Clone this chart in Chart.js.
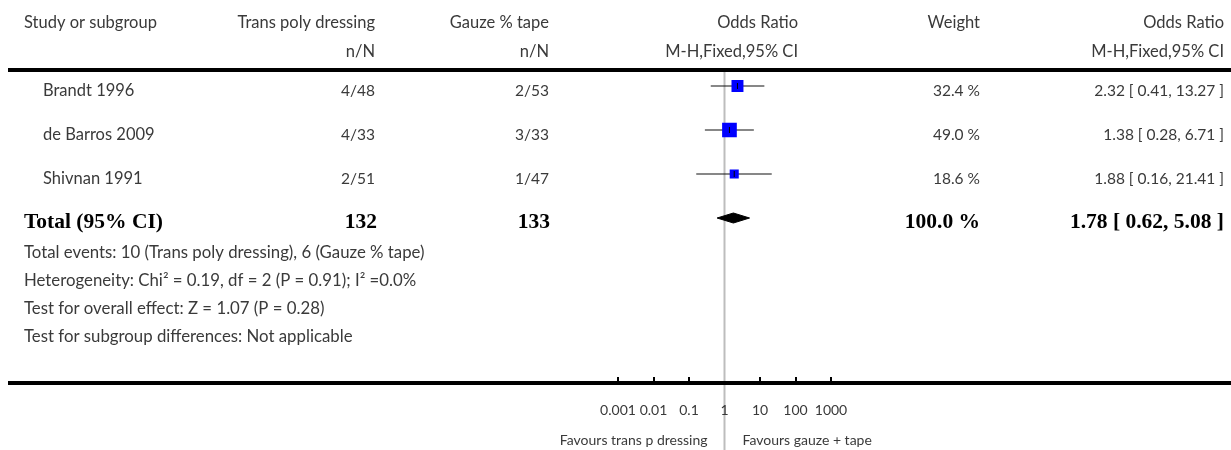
<!DOCTYPE html>
<html>
<head>
<meta charset="utf-8">
<script src="https://cdn.jsdelivr.net/npm/chart.js@4.4.1/dist/chart.umd.min.js"></script>
<style>
  html, body { margin: 0; padding: 0; background: #fff; }
  #wrap { width: 1231px; height: 450px; }
</style>
</head>
<body>
<div id="wrap"><canvas id="c" width="1231" height="450"></canvas></div>
<script>
// ---- data ----
const studies = ["Brandt 1996", "de Barros 2009", "Shivnan 1991"];
const treatN = ["4/48", "4/33", "2/51"];
const controlN = ["2/53", "3/33", "1/47"];
const orEst = [2.32, 1.38, 1.88];
const orLow = [0.41, 0.28, 0.16];
const orHigh = [13.27, 6.71, 21.41];
const weights = [32.4, 49.0, 18.6];
const totalTreat = 132;
const totalControl = 133;
const totalEst = 1.78;
const totalLow = 0.62;
const totalHigh = 5.08;
const totalWeight = 100.0;
const tickValues = [0.001, 0.01, 0.1, 1, 10, 100, 1000];
const tickLabels = ["0.001", "0.01", "0.1", "1", "10", "100", "1000"];
const footnotes = [
  "Total events: 10 (Trans poly dressing), 6 (Gauze % tape)",
  "Heterogeneity: Chi\u00B2 = 0.19, df = 2 (P = 0.91); I\u00B2 =0.0%",
  "Test for overall effect: Z = 1.07 (P = 0.28)",
  "Test for subgroup differences: Not applicable"
];
const favourLeft = "Favours trans p dressing";
const favourRight = "Favours gauze + tape";

// ---- styling ----
const SANS = '"Lato", "Open Sans", sans-serif';
const SERIF = '"Liberation Serif", "DejaVu Serif", serif';
const TXT = '#3a3a3a';
const F_WORD = '16.5px ' + SANS;
const F_FOOT = '16.8px ' + SANS;
const F_NUM = '15.5px ' + SANS;
const F_BOLD = 'bold 21.5px ' + SERIF;
const F_AXIS = '14px ' + SANS;
const fmt2 = v => v.toFixed(2);

const rows = studies.map((s, i) => i);
const totalRow = studies.length;

// column anchors (pixels)
const COL_LEFT = 24, COL_STUDY = 43, COL_T = 375, COL_C = 549, COL_FP = 798, COL_W = 980, COL_CI = 1224;

// datasets
const tickDs = {
  type: 'scatter', label: 'est-mark',
  data: orEst.map((v, i) => ({ x: v, y: rows[i] })),
  pointStyle: 'line', rotation: 90, pointRadius: 3,
  borderColor: '#000', borderWidth: 1, backgroundColor: '#000'
};
const squareDs = {
  type: 'scatter', label: 'squares',
  data: orEst.map((v, i) => ({ x: v, y: rows[i] })),
  pointStyle: 'rect',
  pointRadius: weights.map(w => 2.1 * Math.sqrt(w) / (2 * Math.SQRT1_2)),
  backgroundColor: '#0000ff', borderColor: '#0000ff', borderWidth: 0
};
const ciDs = orEst.map((v, i) => ({
  type: 'line', label: 'ci' + i,
  data: [{ x: orLow[i], y: rows[i] }, { x: orHigh[i], y: rows[i] }],
  borderColor: '#111', borderWidth: 1.2, pointRadius: 0, fill: false
}));
const dh = 5 / 44;
const diamondDs = {
  type: 'line', label: 'diamond',
  data: [
    { x: totalLow, y: totalRow },
    { x: totalEst, y: totalRow - dh },
    { x: totalHigh, y: totalRow },
    { x: totalEst, y: totalRow + dh },
    { x: totalLow, y: totalRow }
  ],
  borderColor: '#000', borderWidth: 1, backgroundColor: '#000',
  pointRadius: 0, fill: 'shape', tension: 0
};

const tablePlugin = {
  id: 'table',
  beforeDatasetsDraw(chart) {
    const ctx = chart.ctx;
    const xs = chart.scales.x;
    const x1 = xs.getPixelForValue(1);
    ctx.save();
    ctx.strokeStyle = '#bdbdbd';
    ctx.lineWidth = 2;
    ctx.beginPath();
    ctx.moveTo(x1, 70); ctx.lineTo(x1, 450);
    ctx.stroke();
    ctx.restore();
  },
  afterDatasetsDraw(chart) {
    const ctx = chart.ctx;
    const xs = chart.scales.x, ys = chart.scales.y;
    const W = chart.width;
    ctx.save();
    // horizontal rules
    ctx.fillStyle = '#000';
    ctx.fillRect(8, 68, W - 8, 4);
    ctx.fillRect(8, 381, W - 8, 4);
    // axis ticks
    ctx.strokeStyle = '#000';
    ctx.lineWidth = 2;
    tickValues.forEach(v => {
      if (v === 1) return;
      const px = Math.round(xs.getPixelForValue(v));
      ctx.beginPath(); ctx.moveTo(px, 377); ctx.lineTo(px, 382); ctx.stroke();
    });
    ctx.textBaseline = 'middle';
    // headers
    ctx.fillStyle = TXT;
    ctx.font = F_WORD;
    ctx.textAlign = 'left';
    ctx.fillText('Study or subgroup', COL_LEFT, 23);
    ctx.textAlign = 'right';
    ctx.fillText('Trans poly dressing', COL_T, 23);
    ctx.fillText('Gauze % tape', COL_C, 23);
    ctx.fillText('n/N', COL_T, 52);
    ctx.fillText('n/N', COL_C, 52);
    ctx.fillText('Odds Ratio', COL_FP, 23);
    ctx.fillText('M-H,Fixed,95% CI', COL_FP, 52);
    ctx.fillText('Weight', COL_W, 23);
    ctx.fillText('Odds Ratio', COL_CI, 23);
    ctx.fillText('M-H,Fixed,95% CI', COL_CI, 52);
    // study rows
    studies.forEach((s, i) => {
      const py = ys.getPixelForValue(rows[i]) + 5;
      ctx.font = F_WORD;
      ctx.textAlign = 'left';
      ctx.fillText(s, COL_STUDY, py);
      ctx.font = F_NUM;
      ctx.textAlign = 'right';
      ctx.fillText(treatN[i], COL_T, py);
      ctx.fillText(controlN[i], COL_C, py);
      ctx.fillText(weights[i].toFixed(1) + ' %', COL_W, py);
      ctx.fillText(fmt2(orEst[i]) + ' [ ' + fmt2(orLow[i]) + ', ' + fmt2(orHigh[i]) + ' ]', COL_CI, py);
    });
    // total row
    const ty = ys.getPixelForValue(totalRow) + 4;
    ctx.fillStyle = '#000';
    ctx.font = F_BOLD;
    ctx.textAlign = 'left';
    ctx.fillText('Total (95% CI)', COL_LEFT, ty);
    ctx.textAlign = 'right';
    ctx.fillText(String(totalTreat), COL_T + 2, ty);
    ctx.fillText(String(totalControl), COL_C + 1, ty);
    ctx.fillText(totalWeight.toFixed(1) + ' %', COL_W, ty);
    ctx.fillText(fmt2(totalEst) + ' [ ' + fmt2(totalLow) + ', ' + fmt2(totalHigh) + ' ]', COL_CI, ty);
    // footnotes
    ctx.fillStyle = TXT;
    ctx.font = F_FOOT;
    ctx.textAlign = 'left';
    footnotes.forEach((f, i) => ctx.fillText(f, COL_LEFT, 253 + i * 28));
    // tick labels
    ctx.textAlign = 'center';
    ctx.font = F_AXIS;
    tickValues.forEach((v, i) => {
      ctx.fillText(tickLabels[i], xs.getPixelForValue(v), 410);
    });
    // favours
    const xc = xs.getPixelForValue(1);
    ctx.textAlign = 'right';
    ctx.fillText(favourLeft, xc - 17, 440);
    ctx.textAlign = 'left';
    ctx.fillText(favourRight, xc + 18, 440);
    ctx.restore();
  }
};

new Chart(document.getElementById('c'), {
  data: { datasets: [tickDs, squareDs, ...ciDs, diamondDs] },
  options: {
    responsive: false,
    animation: false,
    devicePixelRatio: 1,
    layout: { padding: { left: 582.5, right: 364.5, top: 42, bottom: 12 } },
    plugins: { legend: { display: false }, tooltip: { enabled: false } },
    scales: {
      x: { type: 'logarithmic', min: 0.0001, max: 10000, display: false },
      y: { type: 'linear', reverse: true, min: -1, max: 8, display: false }
    }
  },
  plugins: [tablePlugin]
});
</script>
</body>
</html>
